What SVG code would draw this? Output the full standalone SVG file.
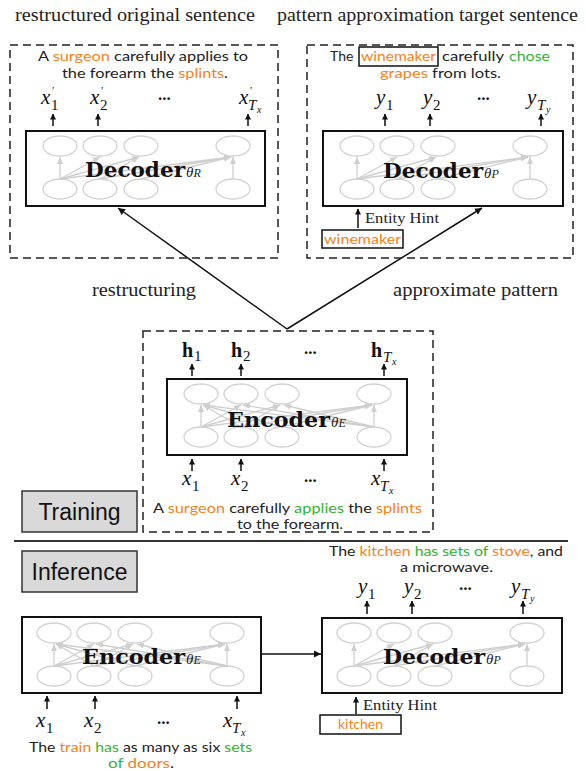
<svg xmlns="http://www.w3.org/2000/svg" width="586" height="771" viewBox="0 0 586 771">
<style>
.title{font-family:"Liberation Serif","DejaVu Serif",serif;font-size:18px;fill:#222}
.sent{font-family:Lato,"Open Sans",sans-serif;font-size:14px;fill:#222}
.or{fill:#f58220}
.gr{fill:#33b233}
.dash{fill:none;stroke:#222;stroke-width:1.5;stroke-dasharray:8 5}
.box{fill:#fff;stroke:#111;stroke-width:2}
.big{font-family:"DejaVu Serif","Liberation Serif",serif;font-weight:bold;font-size:21px;fill:#111}
.th{font-family:"Liberation Serif",serif;font-style:italic;font-size:15px;fill:#222}
.m{font-family:"Liberation Serif",serif;font-style:italic;font-size:21px;fill:#111}
.mb{font-family:"Liberation Serif",serif;font-weight:bold;font-size:20px;fill:#111}
.s{font-family:"Liberation Serif",serif;font-style:normal;font-weight:normal;font-size:15px}
.pr{font-family:"Liberation Serif",serif;font-size:11px}
.si{font-family:"Liberation Serif",serif;font-style:italic;font-weight:normal;font-size:15px}
.ss{font-family:"Liberation Serif",serif;font-style:italic;font-weight:normal;font-size:10px}
.dots{font-family:"Liberation Serif",serif;font-weight:bold;font-size:17px;fill:#111}
.arr{stroke:#111;stroke-width:1.5;fill:none}
.g{stroke:#cfcfcf;stroke-width:1.3;fill:none}
.ge{fill:none;stroke:#d3d3d3;stroke-width:1.3}
.lbl{font-family:"Liberation Sans",Arial,sans-serif;font-size:23px;fill:#111}
.eh{font-family:"Liberation Serif",serif;font-size:15px;fill:#222}
</style>
<defs>
<marker id="ah" markerWidth="8" markerHeight="8" refX="7" refY="4" orient="auto" markerUnits="userSpaceOnUse">
<path d="M0,0.5 L7,4 L0,7.5 Z" fill="#111"/>
</marker>
<marker id="ahs" markerWidth="6" markerHeight="7" refX="5.5" refY="3.5" orient="auto" markerUnits="userSpaceOnUse">
<path d="M0,0.5 L6,3.5 L0,6.5 Z" fill="#111"/>
</marker>
<marker id="gh" markerWidth="8" markerHeight="8" refX="7" refY="4" orient="auto" markerUnits="userSpaceOnUse">
<path d="M0,1 L7,4 L0,7 Z" fill="#cfcfcf"/>
</marker>
<g id="ells">
<ellipse class="ge" cx="34" cy="15" rx="17" ry="10"/>
<ellipse class="ge" cx="74" cy="15" rx="17" ry="10"/>
<ellipse class="ge" cx="115" cy="15" rx="17" ry="10"/>
<ellipse class="ge" cx="207" cy="15" rx="17" ry="10"/>
<ellipse class="ge" cx="34" cy="58" rx="17" ry="10"/>
<ellipse class="ge" cx="74" cy="58" rx="17" ry="10"/>
<ellipse class="ge" cx="115" cy="58" rx="17" ry="10"/>
<ellipse class="ge" cx="207" cy="58" rx="17" ry="10"/>
</g>
<g id="decgrid">
<use href="#ells"/>
<g class="g" marker-end="url(#gh)">
<line x1="34" y1="48" x2="34" y2="26"/>
<line x1="34" y1="48" x2="74" y2="26"/>
<line x1="34" y1="48" x2="113" y2="26"/>
<line x1="34" y1="48" x2="205" y2="26"/>
<line x1="74" y1="48" x2="113" y2="26"/>
<line x1="74" y1="48" x2="205" y2="26"/>
<line x1="115" y1="48" x2="205" y2="26"/>
<line x1="207" y1="48" x2="207" y2="26"/>
</g>
</g>
<g id="encgrid">
<use href="#ells"/>
<g class="g" marker-end="url(#gh)">
<line x1="34" y1="48" x2="34" y2="26"/>
<line x1="34" y1="48" x2="74" y2="26"/>
<line x1="34" y1="48" x2="113" y2="26"/>
<line x1="34" y1="48" x2="205" y2="26"/>
<line x1="74" y1="48" x2="36" y2="26"/>
<line x1="74" y1="48" x2="113" y2="26"/>
<line x1="74" y1="48" x2="205" y2="26"/>
<line x1="115" y1="48" x2="36" y2="26"/>
<line x1="115" y1="48" x2="205" y2="26"/>
<line x1="207" y1="48" x2="36" y2="26"/>
<line x1="207" y1="48" x2="76" y2="26"/>
<line x1="207" y1="48" x2="117" y2="26"/>
<line x1="207" y1="48" x2="207" y2="26"/>
</g>
</g>
</defs>
<rect width="586" height="771" fill="#fff"/>

<text class="title" x="15" y="21" textLength="240" lengthAdjust="spacingAndGlyphs">restructured original sentence</text>
<text class="title" x="277" y="21" textLength="301" lengthAdjust="spacingAndGlyphs">pattern approximation target sentence</text>

<g id="connectors">
<line class="arr" x1="287" y1="329" x2="118" y2="208" marker-end="url(#ah)"/>
<line class="arr" x1="287" y1="329" x2="482" y2="208" marker-end="url(#ah)"/>
<line class="arr" x1="261" y1="654" x2="321" y2="654" marker-end="url(#ah)"/>
<g marker-end="url(#ahs)" class="arr">
<line x1="53" y1="126" x2="53" y2="114"/>
<line x1="98" y1="126" x2="98" y2="114"/>
<line x1="248" y1="126" x2="248" y2="114"/>
<line x1="385" y1="126" x2="385" y2="114"/>
<line x1="430" y1="126" x2="430" y2="114"/>
<line x1="541" y1="126" x2="541" y2="114"/>
<line x1="358" y1="228" x2="358" y2="209"/>
<line x1="192" y1="376" x2="192" y2="364"/>
<line x1="241" y1="376" x2="241" y2="364"/>
<line x1="384" y1="376" x2="384" y2="364"/>
<line x1="192" y1="471" x2="192" y2="459"/>
<line x1="241" y1="471" x2="241" y2="459"/>
<line x1="384" y1="471" x2="384" y2="459"/>
<line x1="47" y1="709" x2="47" y2="696"/>
<line x1="95" y1="709" x2="95" y2="696"/>
<line x1="237" y1="709" x2="237" y2="696"/>
<line x1="367" y1="614" x2="367" y2="601"/>
<line x1="412" y1="614" x2="412" y2="601"/>
<line x1="523" y1="614" x2="523" y2="601"/>
<line x1="356" y1="714" x2="356" y2="697"/>
</g>
</g>

<g id="dec-restructure">
<rect class="dash" x="10" y="45" width="268" height="213"/>
<text class="sent" x="38" y="61" textLength="210" lengthAdjust="spacingAndGlyphs">A <tspan class="or">surgeon</tspan> carefully applies to</text>
<text class="sent" x="62" y="78" textLength="166" lengthAdjust="spacingAndGlyphs">the forearm the <tspan class="or">splints</tspan>.</text>
<text class="m" x="41" y="104">x</text><text class="s" x="51" y="110" fill="#111">1</text><text class="pr" x="52" y="94" fill="#111">′</text>
<text class="m" x="90" y="104">x</text><text class="s" x="100" y="110" fill="#111">2</text><text class="pr" x="101" y="94" fill="#111">′</text>
<text class="dots" x="158" y="100">...</text>
<text class="m" x="239" y="104">x</text><text class="si" x="248" y="110" fill="#111">T</text><text class="ss" x="257" y="113" fill="#111">x</text><text class="pr" x="250" y="94" fill="#111">′</text>
<rect class="box" x="26" y="131" width="239" height="75"/>
<use href="#decgrid" x="26" y="131"/>
<text class="big" x="85" y="177" textLength="100" lengthAdjust="spacingAndGlyphs">Decoder</text>
<text class="th" x="186" y="177">θ<tspan font-size="12">R</tspan></text>
</g>

<g id="dec-pattern">
<rect class="dash" x="307" y="45" width="266" height="213"/>
<text class="sent" x="330" y="61">The</text>
<rect x="359" y="47" width="79" height="19" fill="none" stroke="#111" stroke-width="1.5"/>
<text class="sent or" x="361" y="61" textLength="75" lengthAdjust="spacingAndGlyphs">winemaker</text>
<text class="sent" x="442" y="61" textLength="62" lengthAdjust="spacingAndGlyphs">carefully</text>
<text class="sent gr" x="509" y="61" textLength="41" lengthAdjust="spacingAndGlyphs">chose</text>
<text class="sent" x="380" y="78" textLength="121" lengthAdjust="spacingAndGlyphs"><tspan class="or">grapes</tspan> from lots.</text>
<text class="m" x="376" y="104">y</text><text class="s" x="386" y="110" fill="#111">1</text>
<text class="m" x="423" y="104">y</text><text class="s" x="433" y="110" fill="#111">2</text>
<text class="dots" x="477" y="100">...</text>
<text class="m" x="527" y="104">y</text><text class="si" x="537" y="110" fill="#111">T</text><text class="ss" x="546" y="113" fill="#111">y</text>
<rect class="box" x="323" y="131" width="240" height="75"/>
<use href="#decgrid" x="323" y="131"/>
<text class="big" x="383" y="178" textLength="100" lengthAdjust="spacingAndGlyphs">Decoder</text>
<text class="th" x="484" y="178">θ<tspan font-size="12">P</tspan></text>
<text class="eh" x="365" y="223" textLength="74" lengthAdjust="spacingAndGlyphs">Entity Hint</text>
<rect x="322" y="230" width="81" height="18" fill="none" stroke="#111" stroke-width="1.5"/>
<text class="sent or" x="324" y="244" textLength="77" lengthAdjust="spacingAndGlyphs">winemaker</text>
</g>

<text class="title" x="92" y="296" textLength="104" lengthAdjust="spacingAndGlyphs">restructuring</text>
<text class="title" x="393" y="296" textLength="165" lengthAdjust="spacingAndGlyphs">approximate pattern</text>

<g id="encoder-train">
<rect class="dash" x="143" y="331" width="290" height="201"/>
<text class="mb" x="182" y="357">h</text><text class="s" x="194" y="361" fill="#111">1</text>
<text class="mb" x="231" y="357">h</text><text class="s" x="243" y="361" fill="#111">2</text>
<text class="dots" x="304" y="354">...</text>
<text class="mb" x="371" y="357">h</text><text class="si" x="383" y="362" fill="#111">T</text><text class="ss" x="392" y="365" fill="#111">x</text>
<rect class="box" x="167" y="379" width="240" height="76"/>
<use href="#encgrid" x="167" y="379"/>
<text class="big" x="227" y="427" textLength="103" lengthAdjust="spacingAndGlyphs">Encoder</text>
<text class="th" x="331" y="427">θ<tspan font-size="12">E</tspan></text>
<text class="m" x="182" y="485">x</text><text class="s" x="192" y="491" fill="#111">1</text>
<text class="m" x="231" y="485">x</text><text class="s" x="241" y="491" fill="#111">2</text>
<text class="dots" x="304" y="482">...</text>
<text class="m" x="371" y="485">x</text><text class="si" x="380" y="491" fill="#111">T</text><text class="ss" x="389" y="494" fill="#111">x</text>
<text class="sent" x="153" y="513" textLength="269" lengthAdjust="spacingAndGlyphs">A <tspan class="or">surgeon</tspan> carefully <tspan class="gr">applies</tspan> the <tspan class="or">splints</tspan></text>
<text class="sent" x="237" y="529" textLength="106" lengthAdjust="spacingAndGlyphs">to the forearm.</text>
</g>

<g id="training-label">
<rect x="22" y="491" width="115" height="41" fill="#d9d9d9" stroke="#333" stroke-width="1.5"/>
<text class="lbl" x="79.5" y="520" text-anchor="middle">Training</text>
</g>
<line x1="14" y1="541" x2="568" y2="541" stroke="#333" stroke-width="2"/>
<g id="inference-label">
<rect x="22" y="551" width="115" height="41" fill="#d9d9d9" stroke="#333" stroke-width="1.5"/>
<text class="lbl" x="79.5" y="580" text-anchor="middle">Inference</text>
</g>

<g id="encoder-infer">
<rect class="box" x="22" y="617" width="239" height="76"/>
<use href="#encgrid" x="20" y="618"/>
<text class="big" x="82" y="664" textLength="103" lengthAdjust="spacingAndGlyphs">Encoder</text>
<text class="th" x="186" y="664">θ<tspan font-size="12">E</tspan></text>
<text class="m" x="36" y="727">x</text><text class="s" x="46" y="733" fill="#111">1</text>
<text class="m" x="84" y="727">x</text><text class="s" x="94" y="733" fill="#111">2</text>
<text class="dots" x="157" y="724">...</text>
<text class="m" x="223" y="727">x</text><text class="si" x="232" y="733" fill="#111">T</text><text class="ss" x="241" y="736" fill="#111">x</text>
<text class="sent" x="29" y="752" textLength="223" lengthAdjust="spacingAndGlyphs">The <tspan class="or">train</tspan> <tspan class="gr">has</tspan> as many as six <tspan class="gr">sets</tspan></text>
<text class="sent" x="108" y="768" textLength="66" lengthAdjust="spacingAndGlyphs"><tspan class="gr">of</tspan> <tspan class="or">doors</tspan>.</text>
</g>

<g id="decoder-infer">
<text class="sent" x="329" y="556" textLength="234" lengthAdjust="spacingAndGlyphs">The <tspan class="or">kitchen</tspan> <tspan class="gr">has sets of</tspan> <tspan class="or">stove</tspan>, and</text>
<text class="sent" x="400" y="572" textLength="93" lengthAdjust="spacingAndGlyphs">a microwave.</text>
<text class="m" x="358" y="593">y</text><text class="s" x="368" y="599" fill="#111">1</text>
<text class="m" x="404" y="593">y</text><text class="s" x="414" y="599" fill="#111">2</text>
<text class="dots" x="459" y="590">...</text>
<text class="m" x="511" y="593">y</text><text class="si" x="521" y="599" fill="#111">T</text><text class="ss" x="530" y="602" fill="#111">y</text>
<rect class="box" x="322" y="618" width="240" height="75"/>
<use href="#decgrid" x="320" y="618"/>
<text class="big" x="383" y="664" textLength="102" lengthAdjust="spacingAndGlyphs">Decoder</text>
<text class="th" x="486" y="664">θ<tspan font-size="12">P</tspan></text>
<text class="eh" x="363" y="710" textLength="74" lengthAdjust="spacingAndGlyphs">Entity Hint</text>
<rect x="320" y="715" width="81" height="19" fill="none" stroke="#111" stroke-width="1.5"/>
<text class="sent or" x="360.5" y="729" text-anchor="middle">kitchen</text>
</g>
</svg>
